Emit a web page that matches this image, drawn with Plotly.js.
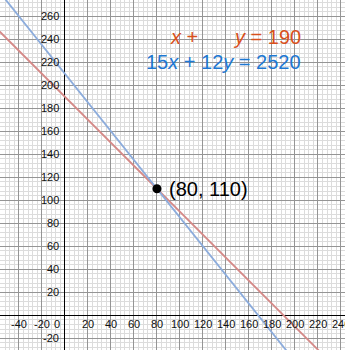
<!DOCTYPE html>
<html>
<head>
<meta charset="utf-8">
<script src="https://cdn.plot.ly/plotly-3.0.1.min.js"></script>
<style>html,body{margin:0;padding:0;background:#fff;}#chart{width:345px;height:350px;}</style>
</head>
<body>
<div id="chart"></div>
<script>
// Data
var redLineX = [-60, 250];
var redLineY = [250, -60];          // x + y = 190
var blueLineX = [-60, 250];
var blueLineY = [285, -102.5];      // 15x + 12y = 2520
var pointX = [80];
var pointY = [110];
var pointLabel = ['(80, 110)'];
var xTickVals = [-40, -20, 20, 40, 60, 80, 100, 120, 140, 160, 180, 200, 220, 240];
var yTickVals = [-20, 20, 40, 60, 80, 100, 120, 140, 160, 180, 200, 220, 240, 260];
var eq1 = ['<i>x</i> +', '<i>y</i> = 190'];
var eq2 = '15<i>x</i> + 12<i>y</i> = 2520';

var W = 345, H = 350;
var labelFont = {family: 'Liberation Sans, Arial, sans-serif', size: 11, color: '#111'};
var eqFont = {family: 'Liberation Sans, Arial, sans-serif', size: 20};
var red = '#d8501c', blue = '#1e78d2';

var traces = [
  {x: redLineX, y: redLineY, mode: 'lines', line: {color: '#d58a88', width: 1.8}, hoverinfo: 'skip'},
  {x: blueLineX, y: blueLineY, mode: 'lines', line: {color: '#8cacdc', width: 1.8}, hoverinfo: 'skip'},
  {x: pointX, y: pointY, mode: 'markers', marker: {color: '#000', size: 9}, hoverinfo: 'skip'}
];

var ann = [];
xTickVals.forEach(function (v) {
  ann.push({x: v, y: 0, xref: 'x', yref: 'y', text: String(v), showarrow: false,
    xanchor: 'center', yanchor: 'middle', yshift: -9, font: labelFont});
});
ann.push({x: 0, y: 0, xref: 'x', yref: 'y', text: '0', showarrow: false,
  xanchor: 'right', yanchor: 'middle', yshift: -9, xshift: -3, font: labelFont});
yTickVals.forEach(function (v) {
  ann.push({x: 0, y: v, xref: 'x', yref: 'y', text: String(v), showarrow: false,
    xanchor: 'right', yanchor: 'middle', xshift: -4, font: labelFont});
});
ann.push({x: pointX[0], y: pointY[0], xref: 'x', yref: 'y', text: pointLabel[0], showarrow: false,
  xanchor: 'left', yanchor: 'middle', xshift: 10, font: {family: eqFont.family, size: 20, color: '#000'}});
ann.push({x: 168 / W, y: 1 - 37 / H, xref: 'paper', yref: 'paper', text: eq1[0], showarrow: false,
  xanchor: 'left', yanchor: 'middle', font: {family: eqFont.family, size: 20, color: red}});
ann.push({x: 303 / W, y: 1 - 37 / H, xref: 'paper', yref: 'paper', text: eq1[1], showarrow: false,
  xanchor: 'right', yanchor: 'middle', font: {family: eqFont.family, size: 20, color: red}});
ann.push({x: 303 / W, y: 1 - 62 / H, xref: 'paper', yref: 'paper', text: eq2, showarrow: false,
  xanchor: 'right', yanchor: 'middle', font: {family: eqFont.family, size: 20, color: blue}});

var axisCommon = {
  dtick: 20, tick0: 0, showgrid: true, gridcolor: '#959595', gridwidth: 1,
  zeroline: true, zerolinecolor: '#000', zerolinewidth: 1,
  showticklabels: false, ticks: '', showline: false, fixedrange: true,
  minor: {dtick: 4, tick0: 0, showgrid: true, gridcolor: '#dcdcdc', gridwidth: 1}
};

var layout = {
  width: W, height: H,
  margin: {l: 0, r: 0, t: 0, b: 0},
  paper_bgcolor: '#fff', plot_bgcolor: '#fff',
  showlegend: false,
  xaxis: Object.assign({}, axisCommon, {range: [-56.5, 243.5]}),
  yaxis: Object.assign({}, axisCommon, {range: [-30.2, 274.2]}),
  annotations: ann
};

Plotly.newPlot('chart', traces, layout, {displayModeBar: false, staticPlot: true});
</script>
</body>
</html>
